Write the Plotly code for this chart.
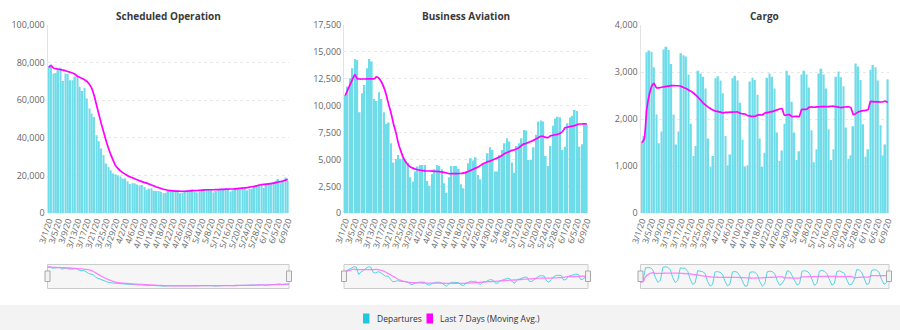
import pandas as pd
import plotly.graph_objects as go

# Daily categories 3/1/20 .. 6/9/20, labelled every fourth day
dates = [f"{d.month}/{d.day}/{d.strftime('%y')}" for d in pd.date_range("2020-03-01", "2020-06-09")]
tick_labels = dates[::4]

titles = ["Scheduled Operation", "Business Aviation", "Cargo"]
legend_names = ["Departures", "Last 7 Days (Moving Avg.)"]

sched_departures = [
    77800, 79000, 74300, 74500, 76000, 77300, 70200, 74300, 74000, 70700,
    70700, 72500, 72500, 67200, 64900, 66600, 61000, 55700, 53000, 51200,
    41500, 38300, 34400, 30900, 26400, 24600, 22900, 21100, 20800, 20200,
    19500, 18300, 18500, 17000, 15500, 16000, 16000, 15300, 14800, 15000,
    14000, 12500, 13000, 13300, 12000, 11800, 11900, 11400, 10600, 10800,
    11800, 11900, 12000, 12000, 11800, 10600, 10900, 11800, 12100, 12300,
    12600, 12400, 11000, 11500, 12300, 12600, 12800, 12900, 12600, 11000,
    11800, 12500, 12800, 13000, 13200, 12900, 11600, 12300, 12900, 13200,
    13500, 13800, 13600, 12300, 12900, 13000, 14500, 14900, 15200, 15400,
    13500, 15000, 15800, 16200, 16600, 17300, 18200, 16000, 16800, 19000,
    17200,
]
sched_avg = [
    77500, 78500, 77100, 76800, 76500, 76300, 76000, 75700, 75300, 74900,
    74500, 73800, 72800, 72200, 71600, 70900, 70000, 68500, 66300, 62500,
    57500, 52500, 47500, 43000, 38500, 34500, 31000, 28000, 25300, 23700,
    22500, 21600, 20800, 20000, 19400, 18900, 18300, 17800, 17300, 16800,
    16400, 16000, 15500, 15000, 14500, 14000, 13600, 13200, 12800, 12500,
    12200, 12000, 11900, 11800, 11800, 11700, 11700, 11700, 11800, 11900,
    12000, 12100, 12100, 12200, 12300, 12400, 12500, 12500, 12500, 12500,
    12600, 12600, 12700, 12700, 12800, 12800, 12900, 12900, 13000, 13100,
    13300, 13400, 13500, 13600, 13900, 14100, 14300, 14600, 15000, 15200,
    15400, 15500, 15600, 15800, 16000, 16300, 16600, 16800, 17100, 17600,
    18000,
]

bizav_departures = [
    11000, 11770, 12540, 13470, 14340, 14250, 9390, 11150, 11930, 13470,
    14340, 14100, 10630, 10440, 11250, 10630, 9390, 8310, 8430, 6510,
    4710, 5050, 5420, 5050, 5110, 4900, 4700, 3350, 2950, 3880,
    4340, 4500, 4500, 4500, 3000, 2570, 3660, 4090, 4500, 4400,
    4090, 2790, 1920, 3350, 4400, 4400, 4400, 4150, 2700, 2330,
    3880, 4650, 5110, 4900, 5200, 3570, 3160, 4650, 4650, 5580,
    6140, 5890, 3880, 3880, 5420, 5890, 6510, 6980, 6670, 4710,
    3780, 6260, 6510, 6980, 7750, 7690, 4960, 4960, 6140, 7290,
    8530, 8620, 8530, 5330, 4400, 6250, 8140, 8820, 8980, 8920,
    5880, 6190, 8360, 8900, 9070, 9600, 9500, 6190, 6410, 8270,
    8270,
]
bizav_avg = [
    10950, 11450, 11950, 12450, 12900, 12500, 12480, 12480, 12480, 12490,
    12500, 12500, 12500, 12680, 12550, 12200, 11700, 11000, 10100, 9300,
    8300, 7500, 6500, 5800, 5200, 4800, 4500, 4300, 4200, 4120,
    4050, 4000, 3970, 3950, 3930, 3930, 3920, 3900, 3900, 3880,
    3850, 3800, 3750, 3680, 3680, 3690, 3690, 3700, 3700, 3750,
    3800, 3900, 4000, 4100, 4200, 4300, 4450, 4600, 4700, 4800,
    4850, 4950, 5050, 5150, 5250, 5400, 5550, 5650, 5750, 5850,
    5900, 6000, 6100, 6300, 6450, 6500, 6600, 6700, 6800, 6900,
    7050, 7150, 7150, 7050, 7050, 7200, 7250, 7300, 7350, 7450,
    7600, 7950, 8000, 8050, 8100, 8150, 8250, 8300, 8300, 8320,
    8320,
]

cargo_departures = [
    1500, 1650, 3420, 3460, 3430, 3100, 2100, 1490, 1740, 3480,
    3540, 3470, 3170, 2100, 1460, 1740, 3400, 3360, 3330, 2950,
    1900, 1215, 1430, 3030, 2970, 2900, 2650, 1590, 990, 1215,
    2870, 2910, 2820, 2550, 1640, 1015, 1250, 2870, 2920, 2820,
    2350, 1560, 990, 1020, 2800, 2880, 2830, 2520, 1590, 985,
    1285, 2880, 2970, 2900, 2650, 1715, 1110, 1335, 1900, 3030,
    2930, 2370, 1715, 1130, 1320, 2950, 3030, 2950, 2670, 1765,
    1085, 1360, 2970, 3070, 2950, 2650, 1785, 1130, 1360, 2900,
    3010, 2890, 2700, 1820, 1160, 1235, 1850, 3180, 3120, 2830,
    1890, 1200, 1360, 3050, 3150, 3100, 2820, 1870, 1230, 1460,
    2850,
]
cargo_avg = [
    1500, 1575, 2190, 2508, 2692, 2760, 2666, 2664, 2677, 2686,
    2697, 2703, 2713, 2713, 2709, 2709, 2697, 2671, 2651, 2620,
    2591, 2556, 2512, 2459, 2404, 2342, 2299, 2255, 2223, 2192,
    2169, 2161, 2149, 2135, 2142, 2146, 2151, 2151, 2152, 2152,
    2124, 2112, 2109, 2076, 2066, 2060, 2061, 2086, 2090, 2089,
    2127, 2139, 2151, 2161, 2180, 2198, 2216, 2223, 2083, 2091,
    2096, 2056, 2056, 2059, 2056, 2206, 2206, 2209, 2252, 2259,
    2253, 2259, 2261, 2267, 2267, 2264, 2267, 2274, 2274, 2264,
    2255, 2246, 2254, 2259, 2263, 2245, 2095, 2119, 2152, 2171,
    2181, 2186, 2204, 2376, 2371, 2369, 2367, 2364, 2369, 2383,
    2354,
]

y_max = [100000, 17500, 4000]
y_step = [20000, 2500, 1000]

series = [
    (sched_departures, sched_avg),
    (bizav_departures, bizav_avg),
    (cargo_departures, cargo_avg),
]
for dep, avg in series:
    assert len(dep) == len(dates) and len(avg) == len(dates)

W, H = 900, 330
# plot-area edges in pixels (left, right) for the three panels
x_px = [(47.5, 289.0), (344.0, 588.0), (640.5, 889.0)]
main_top, main_bottom = 25.0, 213.3
nav_top, nav_bottom = 264.5, 288.5

BAR_FILL = "#6fdcea"
AVG_COLOR = "#ff00ff"
GRID = "#e8e8e8"
TICK_COLOR = "#666666"
FONT = "Open Sans"


def px_x(v):
    return v / W


def px_y(v):
    return 1 - v / H


fig = go.Figure()
layout_axes = {}
shapes = []
annotations = []

for i, ((dep, avg), (x0, x1)) in enumerate(zip(series, x_px)):
    n = i + 1
    xa, ya = f"x{n if n > 1 else ''}", f"y{n if n > 1 else ''}"
    nn = n + 3
    xn, yn = f"x{nn}", f"y{nn}"

    fig.add_trace(go.Bar(
        x=dates, y=dep, xaxis=xa, yaxis=ya, name=legend_names[0],
        marker=dict(color=BAR_FILL, line=dict(width=0)),
        showlegend=False,
    ))
    fig.add_trace(go.Scatter(
        x=dates, y=avg, xaxis=xa, yaxis=ya, mode="lines", name=legend_names[1],
        line=dict(color=AVG_COLOR, width=1.7, shape="spline", smoothing=0.5),
        showlegend=False,
    ))

    # navigator strip below each panel
    lo, hi = min(min(dep), min(avg)), max(max(dep), max(avg))
    pad = (hi - lo) * 0.12
    fig.add_trace(go.Scatter(
        x=dates, y=dep, xaxis=xn, yaxis=yn, mode="lines",
        line=dict(color="#55d3e4", width=1), showlegend=False,
    ))
    fig.add_trace(go.Scatter(
        x=dates, y=avg, xaxis=xn, yaxis=yn, mode="lines",
        line=dict(color="#ff70ff", width=1.3, shape="spline"), opacity=0.85,
        showlegend=False,
    ))

    dom_x = [px_x(x0), px_x(x1)]
    layout_axes[f"xaxis{n if n > 1 else ''}"] = dict(
        domain=dom_x, anchor=ya, type="category", automargin=False,
        tickmode="array", tickvals=tick_labels, ticktext=tick_labels,
        tickangle=-72, tickfont=dict(size=8.5, color=TICK_COLOR, family=FONT),
        showgrid=False, showline=False, ticks="", zeroline=False,
    )
    layout_axes[f"yaxis{n if n > 1 else ''}"] = dict(
        domain=[px_y(main_bottom), px_y(main_top)], anchor=xa, automargin=False,
        range=[0, y_max[i]], dtick=y_step[i], tickformat=",d",
        tickfont=dict(size=9, color=TICK_COLOR, family=FONT),
        showgrid=True, gridcolor=GRID, griddash="dot", gridwidth=1,
        showline=True, linecolor="#e3e3e3", linewidth=1,
        zeroline=False, ticks="",
    )
    layout_axes[f"xaxis{nn}"] = dict(
        domain=dom_x, anchor=yn, type="category", range=[0, len(dates) - 1],
        automargin=False, showticklabels=False, showgrid=False,
        zeroline=False, showline=False, ticks="",
    )
    layout_axes[f"yaxis{nn}"] = dict(
        domain=[px_y(nav_bottom), px_y(nav_top)], anchor=xn,
        range=[lo - pad, hi + pad], automargin=False,
        showticklabels=False, showgrid=False, zeroline=False, showline=False, ticks="",
    )

    # navigator frame and its two handles
    shapes.append(dict(
        type="rect", xref="paper", yref="paper", layer="below",
        x0=px_x(x0), x1=px_x(x1), y0=px_y(nav_bottom), y1=px_y(nav_top),
        fillcolor="#f6f6f6", line=dict(color="#cccccc", width=1),
    ))
    for hx in (x0, x1):
        shapes.append(dict(
            type="rect", xref="paper", yref="paper", layer="above",
            x0=px_x(hx - 2.5), x1=px_x(hx + 2.5),
            y0=px_y(281.5), y1=px_y(271.0),
            fillcolor="#f2f2f2", line=dict(color="#a8a8a8", width=1),
        ))

    annotations.append(dict(
        text=f"<b>{titles[i]}</b>", xref="paper", yref="paper",
        x=(dom_x[0] + dom_x[1]) / 2, y=px_y(15.5), xanchor="center", yanchor="middle",
        showarrow=False, font=dict(size=10, color="#3a3a3a", family=FONT),
    ))

# grey footer band with the legend keys
shapes.append(dict(
    type="rect", xref="paper", yref="paper", layer="below",
    x0=0, x1=1, y0=0, y1=px_y(305), fillcolor="#f3f3f3", line=dict(width=0),
))
legend_keys = [(363.0, "#1ec8dd"), (426.5, AVG_COLOR)]
for (kx, kc), name in zip(legend_keys, legend_names):
    shapes.append(dict(
        type="rect", xref="paper", yref="paper", layer="above",
        x0=px_x(kx), x1=px_x(kx + 6.5), y0=px_y(323.5), y1=px_y(313.5),
        fillcolor=kc, line=dict(width=0),
    ))
    annotations.append(dict(
        text=name, xref="paper", yref="paper", x=px_x(kx + 11.5), y=px_y(318.5),
        xanchor="left", yanchor="middle", showarrow=False,
        font=dict(size=8.5, color="#333333", family=FONT),
    ))

fig.update_layout(
    template="none",
    width=W, height=H, autosize=False,
    margin=dict(l=0, r=0, t=0, b=0, pad=0),
    paper_bgcolor="white", plot_bgcolor="white",
    font=dict(family=FONT, color="#333333"),
    bargap=0.3,
    hovermode=False,
    showlegend=False,
    shapes=shapes,
    annotations=annotations,
    **layout_axes,
)

fig.write_html("out.html")
